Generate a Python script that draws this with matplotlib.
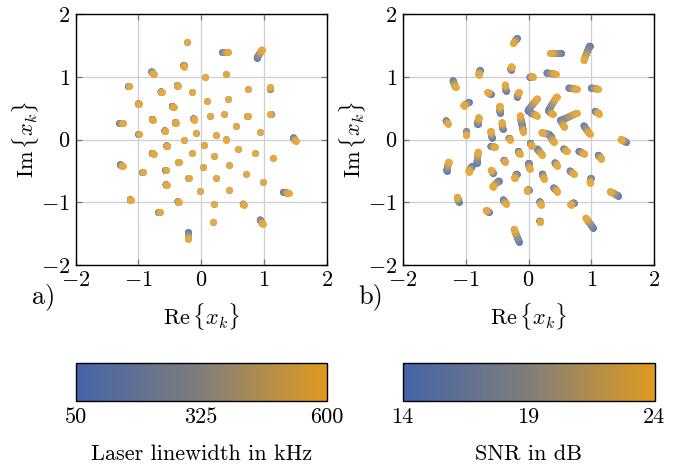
import numpy as np
import matplotlib
matplotlib.use("Agg")
import matplotlib.pyplot as plt
from matplotlib.collections import LineCollection
from matplotlib.colors import LinearSegmentedColormap, Normalize

plt.rcParams["font.family"] = ["cmr10", "DejaVu Serif"]
plt.rcParams["mathtext.fontset"] = "cm"
plt.rcParams["axes.formatter.use_mathtext"] = True

# ====== constellation points: start (blue) -> end (orange) ======
# laser linewidth sweep, 50 kHz -> 600 kHz
lw_50khz = [
    (-0.23, 1.56), (0.33, 1.39), (0.89, 1.30), (-0.28, 1.18), (-0.79, 1.08),
    (0.06, 1.00), (0.40, 1.05), (-1.16, 0.86), (-0.38, 0.86), (-0.64, 0.76),
    (-0.14, 0.75), (0.74, 0.80), (1.10, 0.81), (-1.00, 0.57), (-0.46, 0.53),
    (0.09, 0.62), (0.42, 0.64), (-0.78, 0.32), (-0.41, 0.27), (-0.12, 0.33),
    (0.14, 0.38), (0.36, 0.41), (0.73, 0.38), (1.11, 0.41), (-1.31, 0.26),
    (-1.00, 0.08), (-0.58, 0.14), (-0.09, 0.11), (0.55, 0.22), (0.93, 0.12),
    (0.23, 0.07), (-0.28, 0.00), (0.39, 0.01), (1.47, 0.03), (-0.55, -0.10),
    (0.05, -0.08), (0.59, -0.15), (-0.78, -0.22), (-0.14, -0.22), (0.21, -0.26),
    (0.86, -0.22), (1.14, -0.30), (-1.29, -0.40), (-0.37, -0.36), (0.03, -0.44),
    (0.44, -0.40), (-0.94, -0.52), (-0.57, -0.49), (-0.21, -0.62), (0.23, -0.61),
    (0.71, -0.55), (0.98, -0.67), (-0.56, -0.72), (-0.02, -0.82), (0.45, -0.81),
    (1.31, -0.84), (-1.13, -0.96), (-0.37, -0.99), (0.20, -1.03), (0.67, -1.03),
    (-0.69, -1.15), (0.94, -1.28), (0.19, -1.32), (-0.21, -1.48),
]
lw_600khz = [
    (-0.23, 1.56), (0.43, 1.39), (0.97, 1.43), (-0.27, 1.16), (-0.76, 1.04),
    (0.06, 1.00), (0.40, 1.05), (-1.15, 0.86), (-0.37, 0.85), (-0.63, 0.75),
    (-0.14, 0.75), (0.74, 0.80), (1.10, 0.83), (-0.99, 0.56), (-0.44, 0.51),
    (0.09, 0.62), (0.42, 0.64), (-0.77, 0.31), (-0.40, 0.26), (-0.11, 0.31),
    (0.14, 0.38), (0.36, 0.41), (0.74, 0.38), (1.09, 0.41), (-1.25, 0.26),
    (-0.99, 0.08), (-0.57, 0.13), (-0.09, 0.11), (0.55, 0.22), (0.93, 0.12),
    (0.23, 0.07), (-0.28, 0.00), (0.39, 0.00), (1.51, -0.03), (-0.54, -0.11),
    (0.05, -0.08), (0.59, -0.15), (-0.76, -0.23), (-0.14, -0.22), (0.21, -0.26),
    (0.86, -0.22), (1.14, -0.30), (-1.25, -0.43), (-0.36, -0.36), (0.03, -0.44),
    (0.44, -0.40), (-0.93, -0.52), (-0.56, -0.49), (-0.20, -0.62), (0.23, -0.61),
    (0.71, -0.55), (0.98, -0.68), (-0.55, -0.73), (-0.02, -0.82), (0.45, -0.81),
    (1.40, -0.86), (-1.12, -0.97), (-0.36, -1.00), (0.20, -1.03), (0.68, -1.04),
    (-0.66, -1.15), (0.98, -1.35), (0.19, -1.32), (-0.21, -1.59),
]

# SNR sweep, 14 dB -> 24 dB
snr_14db = [
    (-0.18, 1.61), (0.51, 1.38), (0.97, 1.49), (-0.28, 1.11), (-0.77, 1.10),
    (0.29, 1.06), (0.02, 0.99), (-1.20, 0.94), (0.64, 0.82), (1.00, 0.82),
    (-0.36, 0.78), (-0.60, 0.72), (-0.18, 0.68), (-0.95, 0.59), (-0.45, 0.42),
    (-1.31, 0.30), (-0.81, 0.24), (-0.41, 0.17), (-1.00, 0.14), (-0.58, 0.03),
    (-0.31, 0.02), (-0.11, 0.25), (-0.10, 0.22), (-0.01, 0.46), (0.04, 0.42),
    (0.32, 0.47), (0.32, 0.45), (0.51, 0.30), (0.51, 0.31), (1.06, 0.45),
    (0.88, 0.22), (0.33, 0.08), (0.35, 0.05), (1.55, -0.04), (-0.60, -0.11),
    (0.03, -0.06), (0.14, -0.15), (0.56, -0.15), (0.80, -0.19), (1.11, -0.25),
    (-0.82, -0.38), (-0.16, -0.19), (-0.39, -0.33), (-1.30, -0.50), (-0.90, -0.43),
    (-0.56, -0.54), (-0.47, -0.66), (-0.19, -0.55), (-0.40, -0.96), (-0.63, -1.16),
    (-1.11, -0.99), (-0.15, -1.63), (0.00, -0.38), (0.42, -0.37), (0.22, -0.55),
    (0.66, -0.50), (0.99, -0.62), (0.40, -0.77), (1.43, -0.90), (0.18, -0.99),
    (0.72, -1.01), (0.18, -1.30), (1.03, -1.41), (0.00, -0.80),
]
snr_24db = [
    (-0.24, 1.53), (0.34, 1.38), (0.88, 1.26), (-0.27, 1.16), (-0.79, 1.03),
    (0.43, 1.04), (0.07, 1.00), (-1.16, 0.83), (0.77, 0.80), (1.11, 0.80),
    (-0.37, 0.87), (-0.65, 0.75), (-0.15, 0.75), (-1.03, 0.54), (-0.46, 0.53),
    (-1.28, 0.25), (-0.79, 0.35), (-0.42, 0.27), (-1.00, 0.07), (-0.60, 0.13),
    (-0.29, 0.00), (-0.13, 0.38), (-0.08, 0.12), (0.14, 0.65), (0.13, 0.38),
    (0.45, 0.68), (0.39, 0.40), (0.77, 0.42), (0.57, 0.20), (1.12, 0.41),
    (0.97, 0.09), (0.21, 0.11), (0.40, -0.04), (1.47, 0.00), (-0.53, -0.12),
    (0.05, -0.10), (0.22, -0.25), (0.61, -0.19), (0.89, -0.23), (1.16, -0.31),
    (-0.80, -0.20), (-0.14, -0.23), (-0.37, -0.36), (-1.27, -0.36), (-0.95, -0.51),
    (-0.59, -0.49), (-0.57, -0.75), (-0.22, -0.62), (-0.35, -1.03), (-0.67, -1.13),
    (-1.13, -0.92), (-0.23, -1.43), (0.02, -0.47), (0.46, -0.42), (0.25, -0.63),
    (0.72, -0.55), (0.98, -0.69), (0.46, -0.83), (1.30, -0.83), (0.20, -1.04),
    (0.67, -1.04), (0.19, -1.32), (0.91, -1.25), (-0.02, -0.82),
]

linewidth_ticks = [50, 325, 600]
snr_ticks = [14, 19, 24]

cmap = LinearSegmentedColormap.from_list(
    "blue_orange", ["#4464AA", "#807E7A", "#E09A1E"])

DOT = 5.0   # dot / trail width in pt
FS = 16     # font size


def soften(rgba, k=0.15):
    rgba = np.array(rgba, dtype=float)
    rgba[..., :3] = rgba[..., :3] * (1 - k) + k
    return rgba


def draw_trails(ax, start, end, vmin, vmax, nseg=16):
    start = np.asarray(start)
    end = np.asarray(end)
    norm = Normalize(vmin, vmax)
    # start dots underneath
    ax.scatter(start[:, 0], start[:, 1], s=DOT**2, color=soften(cmap(0.0)),
               linewidths=0, zorder=3)
    # gradient trail along the sweep parameter
    vals = np.linspace(vmin, vmax, nseg + 1)
    frac = (vals - vmin) / (vmax - vmin)
    segs, cols = [], []
    for k in range(nseg):
        for s, e in zip(start, end):
            p0 = s + (e - s) * frac[k]
            p1 = s + (e - s) * frac[k + 1]
            if np.allclose(p0, p1):
                continue
            segs.append([p0, p1])
            cols.append(soften(cmap(norm(0.5 * (vals[k] + vals[k + 1])))))
    lc = LineCollection(segs, colors=cols, linewidths=DOT, capstyle="round",
                        zorder=4)
    ax.add_collection(lc)
    ax.scatter(end[:, 0], end[:, 1], s=DOT**2, color=soften(cmap(1.0)),
               linewidths=0, zorder=5)


def style_axes(ax):
    ax.set_xlim(-2, 2)
    ax.set_ylim(-2, 2)
    ax.set_xticks([-2, -1, 0, 1, 2])
    ax.set_yticks([-2, -1, 0, 1, 2])
    ax.grid(True, color="#cfcfcf", linewidth=0.9, zorder=0)
    ax.set_axisbelow(True)
    ax.tick_params(direction="in", length=4, width=0.9, color="#777777",
                   labelsize=FS, pad=4, top=True, right=True)
    for sp in ax.spines.values():
        sp.set_linewidth(1.0)
    ax.set_xlabel(r"$\mathrm{Re}\,\{x_k\}$", fontsize=FS, labelpad=8)
    ax.set_ylabel(r"$\mathrm{Im}\,\{x_k\}$", fontsize=FS, labelpad=0)


W, H = 689, 466
fig = plt.figure(figsize=(W / 100, H / 100), dpi=100)

ax1 = fig.add_axes([75.7 / W, 1 - 265 / H, 251 / W, 251 / H])
ax2 = fig.add_axes([402.7 / W, 1 - 265 / H, 251.6 / W, 251 / H])

draw_trails(ax1, lw_50khz, lw_600khz, linewidth_ticks[0], linewidth_ticks[-1])
draw_trails(ax2, snr_14db, snr_24db, snr_ticks[0], snr_ticks[-1])
style_axes(ax1)
style_axes(ax2)

fig.text(32 / W, 1 - 303 / H, "a)", fontsize=19, ha="left", va="baseline")
fig.text(358 / W, 1 - 303 / H, "b)", fontsize=19, ha="left", va="baseline")

# ====== colorbars ======
cax1 = fig.add_axes([75.5 / W, 1 - 401 / H, 251.5 / W, 38 / H])
cax2 = fig.add_axes([402.5 / W, 1 - 401 / H, 252 / W, 38 / H])

for cax, ticks, label in [(cax1, linewidth_ticks, "Laser linewidth in kHz"),
                          (cax2, snr_ticks, "SNR in dB")]:
    sm = plt.cm.ScalarMappable(norm=Normalize(ticks[0], ticks[-1]), cmap=cmap)
    cb = fig.colorbar(sm, cax=cax, orientation="horizontal", ticks=ticks)
    cb.outline.set_linewidth(1.0)
    cax.tick_params(length=0, labelsize=FS, pad=5)
    cax.set_xticklabels([str(t) for t in ticks])
    cb.set_label(label, fontsize=FS, labelpad=12)

fig.savefig("out.png", dpi=100)
